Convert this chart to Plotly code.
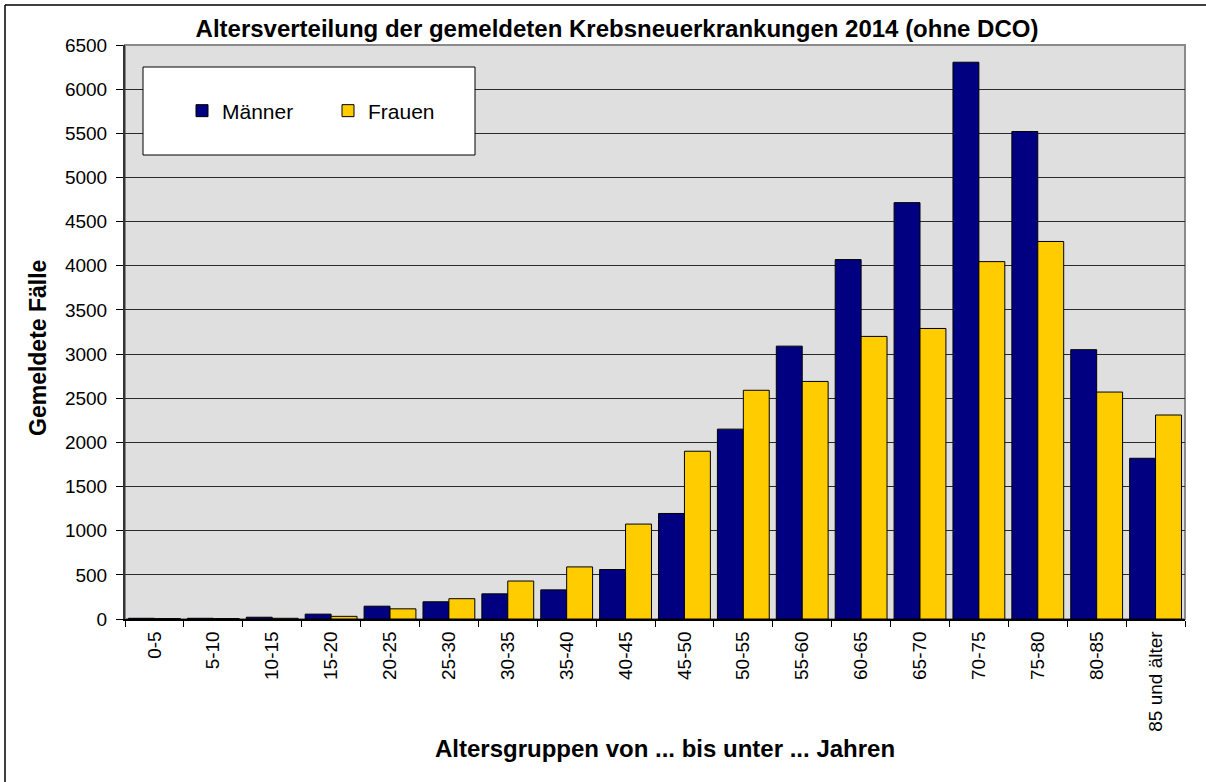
import plotly.graph_objects as go

categories = ["0-5", "5-10", "10-15", "15-20", "20-25", "25-30", "30-35", "35-40",
              "40-45", "45-50", "50-55", "55-60", "60-65", "65-70", "70-75", "75-80",
              "80-85", "85 und älter"]
maenner = [8, 8, 20, 55, 145, 195, 285, 330, 560, 1195, 2150, 3090, 4070, 4715, 6305, 5520, 3050, 1820]
frauen = [5, 5, 8, 30, 115, 230, 430, 590, 1075, 1900, 2590, 2690, 3200, 3290, 4047, 4275, 2570, 2310]
y_ticks = list(range(0, 6501, 500))

FONT = "Arial, Liberation Sans, sans-serif"
W, H = 1206, 782
L, R, T, B = 125, 21, 45, 163
pw, ph = W - L - R, H - T - B

def px(x):
    return (x - L) / pw

def py(y):
    return 1 - (y - T) / ph

fig = go.Figure()
fig.add_trace(go.Bar(x=categories, y=maenner, name="Männer",
                     marker=dict(color="#000080", line=dict(color="#000000", width=1))))
fig.add_trace(go.Bar(x=categories, y=frauen, name="Frauen",
                     marker=dict(color="#FFCC00", line=dict(color="#000000", width=1))))

fig.update_layout(
    width=W, height=H,
    margin=dict(l=L, r=R, t=T, b=B, autoexpand=False),
    paper_bgcolor="white",
    plot_bgcolor="#DFDFDF",
    barmode="group",
    bargap=0.12,
    bargroupgap=0,
    font=dict(family=FONT, color="black"),
    title=dict(text="<b>Altersverteilung der gemeldeten Krebsneuerkrankungen 2014 (ohne DCO)</b>",
               x=px(617), xref="paper", xanchor="center", y=1 - 29 / H, yanchor="middle",
               font=dict(size=24, family=FONT)),
    legend=dict(orientation="h", x=px(182), y=py(111), xanchor="left", yanchor="middle",
                bgcolor="rgba(0,0,0,0)", borderwidth=0, font=dict(size=21, family=FONT),
                entrywidth=101, entrywidthmode="pixels", itemclick=False),
    xaxis=dict(
        type="category", tickson="boundaries", ticks="outside", ticklen=6, tickcolor="black",
        tickangle=-90, tickfont=dict(size=19, family=FONT), ticklabelstandoff=3,
        showline=True, linecolor="black", linewidth=1.5, showgrid=False, automargin=False,
    ),
    yaxis=dict(
        range=[0, 6500], tickvals=y_ticks, ticks="outside", ticklen=7, tickcolor="black",
        tickfont=dict(size=19, family=FONT), ticklabelstandoff=5,
        showline=True, linecolor="#333333", linewidth=2, automargin=False,
        showgrid=True, gridcolor="#2a2a2a", gridwidth=1, zeroline=False,
    ),
    annotations=[
        dict(text="<b>Gemeldete Fälle</b>", textangle=-90, xref="paper", yref="paper",
             x=px(38), y=py(348), xanchor="center", yanchor="middle", showarrow=False,
             font=dict(size=23, family=FONT)),
        dict(text="<b>Altersgruppen von ... bis unter ... Jahren</b>", xref="paper", yref="paper",
             x=px(665), y=py(748), xanchor="center", yanchor="middle", showarrow=False,
             font=dict(size=24, family=FONT)),
    ],
    shapes=[
        # plot area border (grey)
        dict(type="rect", xref="paper", yref="paper", x0=0, y0=0, x1=1, y1=1,
             line=dict(color="#8a8a8a", width=2), layer="below"),
        # outer frame
        dict(type="line", xref="paper", yref="paper", x0=px(5), x1=px(1206), y0=py(5), y1=py(5),
             line=dict(color="black", width=1.5)),
        dict(type="line", xref="paper", yref="paper", x0=px(5), x1=px(5), y0=py(5), y1=py(782),
             line=dict(color="black", width=1.5)),
        # legend box
        dict(type="rect", xref="paper", yref="paper", x0=px(143), x1=px(475), y0=py(67), y1=py(155),
             fillcolor="white", line=dict(color="black", width=1), layer="above"),
    ],
)

fig.write_html("out.html", config={"displayModeBar": False},
               post_script="document.body.style.margin='0';document.documentElement.style.overflow='hidden';")
